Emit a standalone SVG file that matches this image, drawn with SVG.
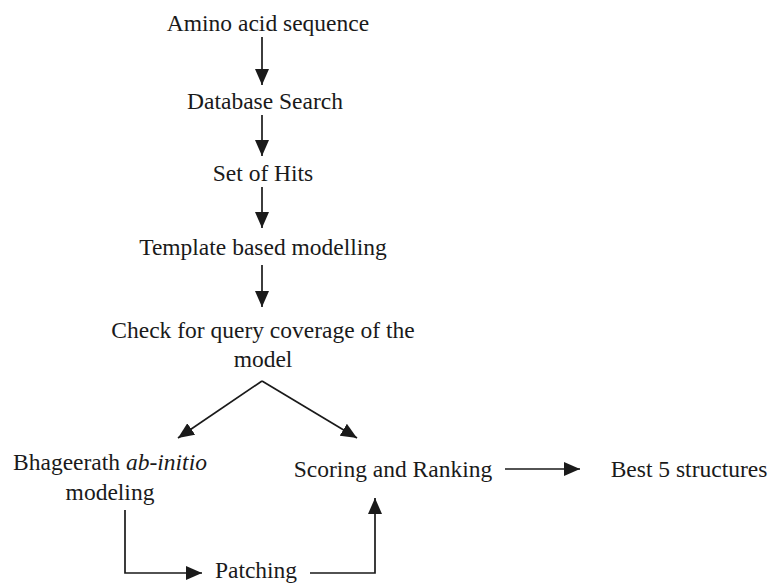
<svg xmlns="http://www.w3.org/2000/svg" width="769" height="583" viewBox="0 0 769 583">
  <style>
    text { font-family: "Liberation Serif", "Times New Roman", serif; font-size: 23.5px; fill: #1a1a1a; }
    .mid { text-anchor: middle; }
    .conn { stroke: #1a1a1a; stroke-width: 1.7; fill: none; }
  </style>
  <defs>
    <marker id="arrow" viewBox="0 0 16 14" refX="16" refY="7" markerWidth="16" markerHeight="14" markerUnits="userSpaceOnUse" orient="auto">
      <path d="M0,0 L16,7 L0,14 z" fill="#1a1a1a"/>
    </marker>
  </defs>
  <rect width="769" height="583" fill="#ffffff"/>

  <g id="connectors">
    <line class="conn" x1="262" y1="37" x2="262" y2="85" marker-end="url(#arrow)"/>
    <line class="conn" x1="262" y1="115" x2="262" y2="156" marker-end="url(#arrow)"/>
    <line class="conn" x1="262" y1="187" x2="262" y2="228" marker-end="url(#arrow)"/>
    <line class="conn" x1="262" y1="265" x2="262" y2="307" marker-end="url(#arrow)"/>
    <line class="conn" x1="262" y1="381" x2="178" y2="438" marker-end="url(#arrow)"/>
    <line class="conn" x1="262" y1="381" x2="357" y2="438" marker-end="url(#arrow)"/>
    <line class="conn" x1="505" y1="469" x2="580" y2="469" marker-end="url(#arrow)"/>
    <polyline class="conn" points="125,510 125,573 202,573" marker-end="url(#arrow)"/>
    <polyline class="conn" points="310,573 375,573 375,498" marker-end="url(#arrow)"/>
  </g>

  <g id="amino-acid-sequence"><text class="mid" x="268" y="31">Amino acid sequence</text></g>
  <g id="database-search"><text class="mid" x="265" y="109">Database Search</text></g>
  <g id="set-of-hits"><text class="mid" x="263" y="181">Set of Hits</text></g>
  <g id="template-modelling"><text class="mid" x="263" y="255">Template based modelling</text></g>
  <g id="coverage-check">
    <text class="mid" x="263" y="338">Check for query coverage of the</text>
    <text class="mid" x="263" y="367">model</text>
  </g>
  <g id="bhageerath">
    <text class="mid" x="110" y="470">Bhageerath <tspan font-style="italic">ab-initio</tspan></text>
    <text class="mid" x="110" y="500">modeling</text>
  </g>
  <g id="scoring-ranking"><text class="mid" x="393" y="477">Scoring and Ranking</text></g>
  <g id="best-structures"><text class="mid" x="689" y="477">Best 5 structures</text></g>
  <g id="patching"><text class="mid" x="256" y="578">Patching</text></g>
</svg>
